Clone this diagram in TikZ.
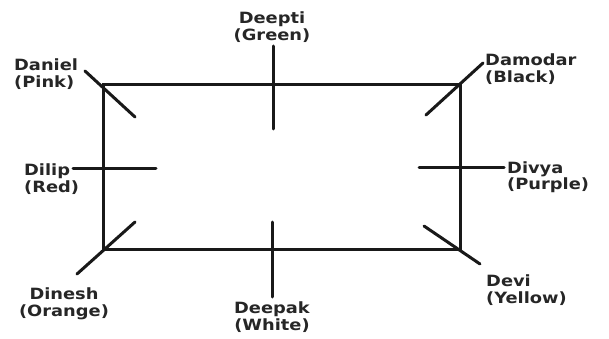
\documentclass[tikz,border=0pt]{standalone}
\usepackage{fontspec}
\setmainfont{DejaVu Sans}
\newfontfamily\lblfont{DejaVu Sans Bold}[FakeStretch=1.15]
\begin{document}
\begin{tikzpicture}[x=1pt,y=-1pt,
  lbl/.style={font=\lblfont\fontsize{15.5}{16.5}\selectfont, text=black!85, inner sep=0pt, align=center},
  lbll/.style={lbl, align=left},
  edge/.style={line width=3pt, black!90, line cap=round}]
\useasboundingbox[fill=white] (0,0) rectangle (609,339);
% corners of the table
\coordinate (tl) at (103,85);
\coordinate (tr) at (460,85);
\coordinate (br) at (460,249);
\coordinate (bl) at (103,249);
\draw[edge, line cap=rect] (tl) -- (tr) -- (br) -- (bl) -- cycle;
% seat line end points
\coordinate (da1) at (85,71);   \coordinate (da2) at (135,117);
\coordinate (dp1) at (273,46);  \coordinate (dp2) at (273,129);
\coordinate (dm1) at (483,63);  \coordinate (dm2) at (426,115);
\coordinate (dl1) at (73,168);  \coordinate (dl2) at (156,168);
\coordinate (dv1) at (419,167); \coordinate (dv2) at (504,167);
\coordinate (dn1) at (77,274);  \coordinate (dn2) at (135,222);
\coordinate (dk1) at (272,222); \coordinate (dk2) at (272,297);
\coordinate (de1) at (424,226); \coordinate (de2) at (480,264);
\foreach \a/\b in {da1/da2,dp1/dp2,dm1/dm2,dl1/dl2,dv1/dv2,dn1/dn2,dk1/dk2,de1/de2}
  \draw[edge] (\a) -- (\b);
% labels
\node[lbl]  (deepti)  at (272,27)  {Deepti\\(Green)};
\node[lbll, anchor=west] (daniel) at (14,74) {Daniel\\(Pink)};
\node[lbll, anchor=west] (damodar) at (485,69) {Damodar\\(Black)};
\node[lbll, anchor=west] (dilip) at (24,179) {Dilip\\(Red)};
\node[lbll, anchor=west] (divya) at (507,177) {Divya\\(Purple)};
\node[lbl]  (dinesh)  at (64,304)  {Dinesh\\(Orange)};
\node[lbl]  (deepak)  at (272,317) {Deepak\\(White)};
\node[lbll, anchor=west] (devi) at (486,290) {Devi\\(Yellow)};
\end{tikzpicture}
\end{document}
